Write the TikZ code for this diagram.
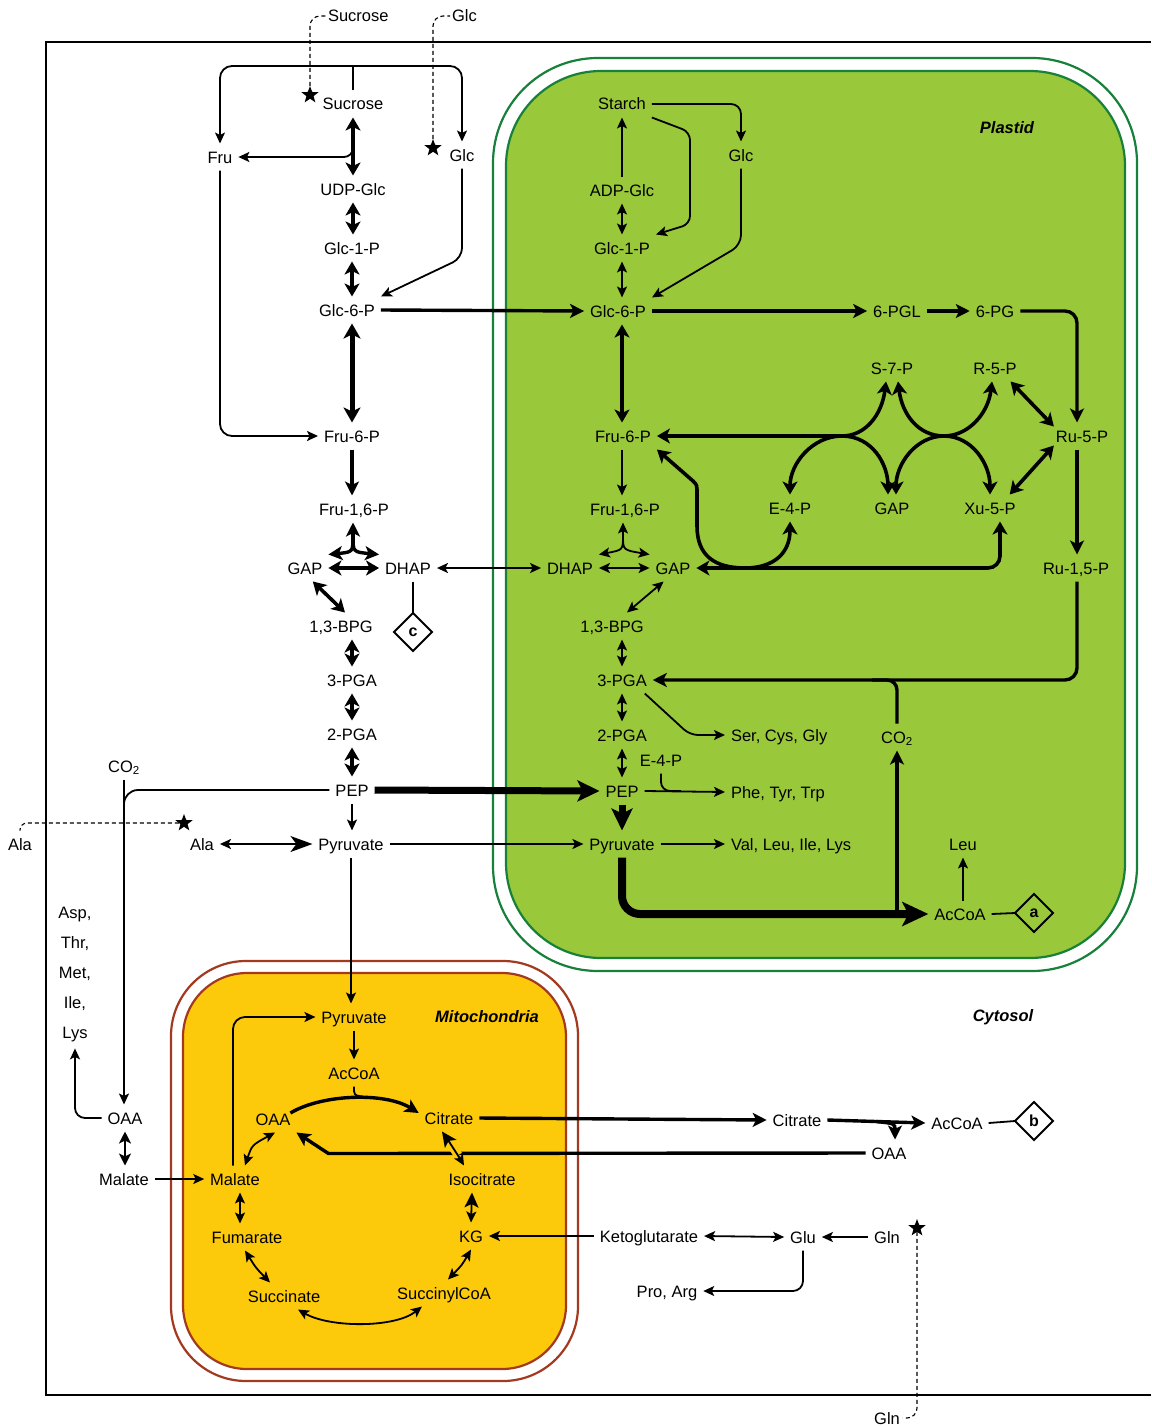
\documentclass[tikz,border=0pt]{standalone}
\usepackage{fontspec}
\setmainfont{Liberation Sans}
\usetikzlibrary{arrows.meta,shapes.geometric,calc}
\definecolor{plf}{HTML}{9AC83B}
\definecolor{plb}{HTML}{17803A}
\definecolor{mif}{HTML}{FCC90B}
\definecolor{mib}{HTML}{A33A1F}
\tikzset{
 m/.style={inner sep=2pt, outer sep=4pt, text height=13.5pt, text depth=1.5pt, font=\fontsize{16.5}{19}\selectfont},
 lab/.style={inner sep=2pt, font=\fontsize{16.5}{19}\selectfont\bfseries\itshape},
 dia/.style={diamond, draw, line width=2pt, minimum size=38pt, inner sep=0pt, outer sep=0pt, font=\fontsize{16}{18}\selectfont\bfseries},
 starn/.style={star, star points=5, star point ratio=2.4, fill, draw=none, minimum size=18pt, inner sep=0pt, outer sep=0pt},
 pl/.style={line width=1.8pt},
 thn/.style={line width=1.8pt, -{Stealth[length=11pt,width=10pt,inset=2.5pt]}},
 thnd/.style={line width=1.8pt, {Stealth[length=11pt,width=10pt,inset=2.5pt]}-{Stealth[length=11pt,width=10pt,inset=2.5pt]}},
 thk/.style={line width=3.4pt, -{Stealth[length=14pt,width=14pt,inset=3.5pt]}},
 thkd/.style={line width=3.6pt, {Stealth[length=13pt,width=15pt,inset=3.5pt]}-{Stealth[length=13pt,width=15pt,inset=3.5pt]}},
 vthk/.style={line width=7pt, -{Stealth[length=22pt,width=21pt,inset=5pt]}},
 dsh/.style={line width=1.1pt, dash pattern=on 4pt off 3pt},
}
\begin{document}
\begin{tikzpicture}[x=1pt,y=-1pt]
\fill[white] (0,0) rectangle (1151,1426);
\useasboundingbox (0,0) rectangle (1151,1426);
% cell
\draw[line width=1.6pt] (1151,42) -- (46,42) -- (46,1395) -- (1151,1395);
% plastid
\draw[plb, line width=2.2pt, fill=white, rounded corners=105pt] (493,58) rectangle (1137,971);
\draw[plb, line width=2.2pt, fill=plf, rounded corners=95pt] (506,71) rectangle (1125,958);
% mitochondria
\draw[mib, line width=2.2pt, fill=white, rounded corners=75pt] (171,961) rectangle (578,1381);
\draw[mib, line width=2.2pt, fill=mif, rounded corners=64pt] (183,973) rectangle (566,1369);

% ---------- cytosol nodes
\node[m] (suc) at (353,104) {Sucrose};
\node[m] (fru) at (220,157) {Fru};
\node[m] (glcC) at (462,155) {Glc};
\node[m] (udp) at (353,189) {UDP-Glc};
\node[m] (g1pC) at (352,248) {Glc-1-P};
\node[m] (g6pC) at (347,310) {Glc-6-P};
\node[m] (f6pC) at (352,436) {Fru-6-P};
\node[m] (fbpC) at (354,509) {Fru-1,6-P};
\node[m] (gapC) at (305,568) {GAP};
\node[m] (dhapC) at (408,568) {DHAP};
\node[m] (bpgC) at (341,626) {1,3-BPG};
\node[m] (pga3C) at (352,680) {3-PGA};
\node[m] (pga2C) at (352,734) {2-PGA};
\node[m] (pepC) at (352,790) {PEP};
\node[m] (alaC) at (202,844) {Ala};
\node[m] (pyrC) at (351,844) {Pyruvate};
\node[m] (co2C) at (124,766) {CO\textsubscript{2}};
\node[m] (alaO) at (20,844) {Ala};
\node[inner sep=2pt, outer sep=4pt, align=center, font=\fontsize{16.5}{30}\selectfont] (asp) at (75,975) {Asp,\\Thr,\\Met,\\Ile,\\Lys};
\node[m] (oaaC) at (125,1118) {OAA};
\node[m] (malC) at (124,1179) {Malate};
\node[m, anchor=west] (sucO) at (322,16) {Sucrose};
\node[m, anchor=west] (glcO) at (446,16) {Glc};
\node[m] (glnO) at (887,1418) {Gln};
\node[starn] (s1) at (310,95) {};
\node[starn] (s2) at (433,148) {};
\node[starn] (s3) at (184,823) {};
\node[starn] (s4) at (917,1228) {};
\node[dia] (dc) at (413,632) {c};
\node[lab] (cyt) at (1003,1017) {Cytosol};

% ---------- plastid nodes
\node[lab] (plab) at (1007,128) {Plastid};
\node[m] (starch) at (622,104) {Starch};
\node[m] (glcP) at (741,155) {Glc};
\node[m] (adp) at (622,190) {ADP-Glc};
\node[m] (g1pP) at (622,248) {Glc-1-P};
\node[m] (g6pP) at (618,311) {Glc-6-P};
\node[m] (pgl) at (897,311) {6-PGL};
\node[m] (pg6) at (995,311) {6-PG};
\node[m] (s7p) at (892,368) {S-7-P};
\node[m] (r5p) at (995,368) {R-5-P};
\node[m] (f6pP) at (623,436) {Fru-6-P};
\node[m] (ru5p) at (1082,436) {Ru-5-P};
\node[m] (fbpP) at (625,509) {Fru-1,6-P};
\node[m] (e4p) at (790,508) {E-4-P};
\node[m] (gapM) at (892,508) {GAP};
\node[m] (xu5p) at (990,508) {Xu-5-P};
\node[m] (dhapP) at (570,568) {DHAP};
\node[m] (gapP) at (673,568) {GAP};
\node[m] (rubp) at (1076,568) {Ru-1,5-P};
\node[m] (bpgP) at (612,626) {1,3-BPG};
\node[m] (pga3P) at (622,680) {3-PGA};
\node[m] (pga2P) at (622,735) {2-PGA};
\node[m, anchor=west] (scg) at (725,735) {Ser, Cys, Gly};
\node[m] (co2P) at (897,737) {CO\textsubscript{2}};
\node[m] (e4pS) at (661,760) {E-4-P};
\node[m] (pepP) at (622,791) {PEP};
\node[m, anchor=west] (ptt) at (725,792) {Phe, Tyr, Trp};
\node[m] (pyrP) at (622,844) {Pyruvate};
\node[m, anchor=west] (vlil) at (725,844) {Val, Leu, Ile, Lys};
\node[m] (leu) at (963,844) {Leu};
\node[m] (accP) at (960,914) {AcCoA};
\node[dia] (da) at (1034,913) {a};

% ---------- mitochondria nodes
\node[m] (pyrM) at (354,1017) {Pyruvate};
\node[lab] (mlab) at (487,1017) {Mitochondria};
\node[m] (accM) at (354,1073) {AcCoA};
\node[m] (oaaM) at (273,1119) {OAA};
\node[m] (citM) at (449,1118) {Citrate};
\node[m] (malM) at (235,1179) {Malate};
\node[m] (iso) at (482,1179) {Isocitrate};
\node[m] (fum) at (247,1237) {Fumarate};
\node[m] (kg) at (471,1236) {KG};
\node[m] (succ) at (284,1296) {Succinate};
\node[m] (scoa) at (444,1293) {SuccinylCoA};

% ---------- right cytosol nodes
\node[m] (citC) at (797,1120) {Citrate};
\node[m] (accC) at (957,1123) {AcCoA};
\node[dia] (db) at (1034,1121) {b};
\node[m] (oaaR) at (889,1153) {OAA};
\node[m] (keto) at (649,1236) {Ketoglutarate};
\node[m] (glu) at (803,1237) {Glu};
\node[m] (gln) at (887,1237) {Gln};
\node[m] (pro) at (667,1291) {Pro, Arg};

% ================= cytosol connectors
\draw[pl] (suc.north) -- ++(0,-24.5);
\draw[thnd, rounded corners=12pt] (fru.north) -- (220,66) -- (462,66) -- (glcC.north);
\draw[thkd] (suc.south) -- (udp.north);
\draw[thn, rounded corners=9pt] (353,136) -- (353,157) -- (fru.east);
\draw[thkd] (udp.south) -- (udp.south |- g1pC.north);
\draw[thkd] (g1pC.south) -- (g1pC.south |- g6pC.north);
\draw[thn, rounded corners=10pt] (glcC.south) -- (462,258) -- (g6pC.north east);
\draw[thk] (g6pC.east) -- (g6pP.west);
\draw[line width=5pt, {Stealth[length=15pt,width=17pt,inset=4pt]}-{Stealth[length=15pt,width=17pt,inset=4pt]}] (f6pC.north |- g6pC.south) -- (f6pC.north);
\draw[thn, rounded corners=12pt] (fru.south) -- (220,436) -- (f6pC.west);
\draw[thk] (f6pC.south) -- (f6pC.south |- fbpC.north);
\coordinate (jC) at (353,545);
\draw[thk] (jC) -- (jC |- fbpC.south);
\draw[thk] (353,536) .. controls (353,552) .. (gapC.north east);
\draw[thk] (353,536) .. controls (353,552) .. (dhapC.north west);
\draw[thkd] (gapC.east) -- (dhapC.west);
\draw[thnd] (dhapC.east) -- (dhapP.west);
\draw[thkd] (gapC.-60) -- ($(bpgC.north)+(4,0)$);
\draw[thkd] (pga3C.north |- bpgC.south) -- (pga3C.north);
\draw[thkd] (pga3C.south) -- (pga2C.north);
\draw[thkd] (pga2C.south) -- (pepC.north);
\draw[vthk] (pepC.east) -- (pepP.west);
\draw[thn] (pepC.south) -- (pepC.south |- pyrC.north);
\draw[line width=1.8pt, {Stealth[length=11pt,width=10pt,inset=2.5pt]}-{Stealth[length=22pt,width=16pt,inset=6pt]}] (alaC.east) -- (pyrC.west);
\draw[thn] (pyrC.east) -- (pyrP.west);
\draw[thn] (pyrC.south) -- (pyrC.south |- pyrM.north);
\draw[thn] (co2C.south) -- (co2C.south |- oaaC.north);
\draw[pl, rounded corners=14pt] (pepC.west) -- (co2C.south |- pepC.west) -- ($(co2C.south |- pepC.west)+(0,30)$);
\draw[thn, rounded corners=10pt] (oaaC.west) -- (asp.south |- oaaC.west) -- (asp.south);
\draw[line width=2.4pt, {Stealth[length=12pt,width=12pt,inset=3pt]}-{Stealth[length=12pt,width=12pt,inset=3pt]}] (oaaC.south) -- (oaaC.south |- malC.north);
\draw[thn] (malC.east) -- (malM.west);
\draw[dsh, rounded corners=10pt] (s1.north) -- (s1.north |- sucO.west) -- ($(sucO.west)+(4,0)$);
\draw[dsh, rounded corners=10pt] (s2.north) -- (s2.north |- glcO.west) -- ($(glcO.west)+(4,0)$);
\draw[dsh, rounded corners=7pt] (s3.west) -- (alaO.north |- s3.west) -- (alaO.north);
\draw[dsh, rounded corners=10pt] (s4.south) -- (s4.south |- glnO.east) -- ($(glnO.east)+(-3,0)$);
\draw[pl] (dhapC.south -| dc.north) -- (dc.north);

% ================= plastid connectors
\draw[thn] (adp.north) -- (starch.south);
\draw[thn, rounded corners=10pt] (starch.east) -- (glcP.north |- starch.east) -- (glcP.north);
\draw[thn, rounded corners=8pt] (starch.south east) -- (690,132) -- (690,224) -- (g1pP.north east);
\draw[thnd] (adp.south) -- (g1pP.north);
\draw[thnd] (g1pP.south) -- (g1pP.south |- g6pP.north);
\draw[thn, rounded corners=10pt] (glcP.south) -- (741,245) -- (g6pP.north east);
\draw[thk] (g6pP.east) -- (pgl.west);
\draw[thk] (pgl.east) -- (pg6.west);
\coordinate (rx) at (1077,0);
\draw[thk, rounded corners=12pt] (pg6.east) -- (rx |- pg6.east) -- (rx |- ru5p.north);
\draw[thkd] (g1pP.south |- g6pP.south) -- (g1pP.south |- f6pP.north);
\draw[thn] (g1pP.south |- f6pP.south) -- (g1pP.south |- fbpP.north);
\coordinate (jP) at (623,543);
\draw[thn] (jP) -- (jP |- fbpP.south);
\draw[thn] (623,536) .. controls (623,550) .. (dhapP.north east);
\draw[thn] (623,536) .. controls (623,550) .. (gapP.north west);
\draw[thnd] (dhapP.east) -- (gapP.west);
\draw[thnd] ($(gapP.south west)+(14,0)$) -- ($(bpgP.north)+(15,0)$);
\draw[thnd] (pga3P.north |- bpgP.south) -- (pga3P.north);
\draw[thnd] (pga3P.south) -- (pga2P.north);
\draw[thnd] (pga2P.south) -- (pepP.north);
\draw[thn, rounded corners=8pt] ($(pga3P.south east)+(-8,0)$) -- (690,735) -- (scg.west);
\draw[thn] (pepP.east) -- (ptt.west);
\draw[pl, rounded corners=9pt] (e4pS.south) -- (e4pS.south |- pepP.east) -- ($(e4pS.south |- pepP.east)+(20,0)$);
\draw[vthk] (pepP.south) -- (pyrP.north);
\draw[thn] (pyrP.east) -- (vlil.west);
\draw[line width=8pt, rounded corners=18pt, -{Stealth[length=26pt,width=24pt,inset=6pt]}] (pyrP.south) -- (pyrP.south |- accP.west) -- (accP.west);
\draw[thk] (co2P.south |- accP.west) -- (co2P.south);
\draw[thk, rounded corners=12pt] (rx |- rubp.south) -- (rx |- pga3P.east) -- (pga3P.east);
\draw[line width=3.4pt, rounded corners=10pt] (co2P.north) -- (co2P.north |- pga3P.east) -- ($(co2P.north |- pga3P.east)+(-25,0)$);
\draw[thn] (leu.south |- accP.north) -- (leu.south);
\draw[pl] (accP.east) -- (da.west);
\draw[thk] (rx |- ru5p.south) -- (rx |- rubp.north);
% pentose phosphate
\coordinate (jl) at (842,436);
\coordinate (jr) at (944,436);
\draw[thkd] (f6pP.east) -- (jl) .. controls (866,436) and (882,414) .. ($(s7p.south)+(-6,0)$);
\draw[thkd] (e4p.north) .. controls (790,464) and (812,436) .. (jl) .. controls (872,436) and (888,464) .. ($(gapM.north)+(-4,0)$);
\draw[thkd] ($(s7p.south)+(6,0)$) .. controls (902,414) and (918,436) .. (jr) .. controls (968,436) and (988,414) .. ($(r5p.south)+(-3,0)$);
\draw[thkd] ($(gapM.north)+(4,0)$) .. controls (896,464) and (916,436) .. (jr) .. controls (972,436) and (990,464) .. (xu5p.north);
\draw[thkd] ($(ru5p.north west)+(4,4)$) -- ($(r5p.south east)+(-12,0)$);
\draw[thkd] ($(ru5p.south west)+(4,-4)$) -- ($(xu5p.north east)+(-12,0)$);
\coordinate (xs) at ($(xu5p.south)+(10,0)$);
\draw[thkd, rounded corners=12pt] (xs) -- (xs |- gapP.east) -- (gapP.east);
\draw[thkd] (f6pP.south east) -- (693,481) .. controls (697,485) .. (697,494) -- (697,526) .. controls (697,556) and (715,568) .. (745,568) .. controls (775,568) and (790,552) .. (e4p.south);

% ================= mitochondria connectors
\draw[thn] (pyrM.south) -- (pyrM.south |- accM.north);
\draw[thn, rounded corners=12pt] ($(malM.north)+(-2,0)$) -- ($(malM.north |- pyrM.west)+(-2,0)$) -- (pyrM.west);
\draw[thk] ($(oaaM.east)+(-6,-6)$) .. controls (322,1094) and (385,1092) .. ($(citM.west)+(0,-5)$);
\draw[pl] (accM.south) .. controls ($(accM.south)+(0,9)$) .. ($(accM.south)+(9,10)$);
\draw[thk] (citM.east) -- (citC.west);
\draw[thk] (oaaR.west) -- ($(oaaM.south east)+(32,21)$) -- (oaaM.south east);
\draw[mif, line width=9pt, shorten <=12pt, shorten >=12pt] ($(citM.south)+(-7,0)$) .. controls (455,1150) .. ($(iso.north)+(-18,0)$);
\draw[line width=1.8pt, {Stealth[length=15pt,width=14pt,inset=3.5pt]}-{Stealth[length=11pt,width=10pt,inset=2.5pt]}] ($(citM.south)+(-7,0)$) .. controls (455,1150) .. ($(iso.north)+(-18,0)$);
\draw[line width=1.8pt, {Stealth[length=15pt,width=14pt,inset=3.5pt]}-{Stealth[length=11pt,width=10pt,inset=2.5pt]}] ($(iso.south)+(-10,0)$) -- (kg.north);
\draw[thnd] (kg.south) .. controls (462,1265) .. ($(scoa.north)+(4,0)$);
\draw[thnd] ($(scoa.south)+(-22,0)$) .. controls (395,1328) and (330,1328) .. ($(succ.south)+(14,0)$);
\draw[thnd] ($(succ.north)+(-14,0)$) .. controls (256,1268) .. ($(fum.south)+(-2,0)$);
\draw[thnd] ($(fum.north)+(-7,0)$) -- ($(malM.south)+(5,0)$);
\draw[thnd] ($(malM.north)+(10,0)$) .. controls (252,1145) .. ($(oaaM.south)+(2,0)$);

% ================= right cytosol connectors
\draw[thk] (citC.east) -- (accC.west);
\draw[thk] ($(citC.east)!0.5!(accC.west)$) .. controls ($(oaaR.north)+(6,-16)$) .. ($(oaaR.north)+(6,0)$);
\draw[pl] (accC.east) -- (db.west);
\draw[thn] (keto.west) -- (kg.east);
\draw[thnd] (keto.east) -- (glu.west);
\draw[thn] (gln.west) -- (glu.east);
\draw[thn, rounded corners=10pt] (glu.south) -- (glu.south |- pro.east) -- (pro.east);
\end{tikzpicture}
\end{document}
